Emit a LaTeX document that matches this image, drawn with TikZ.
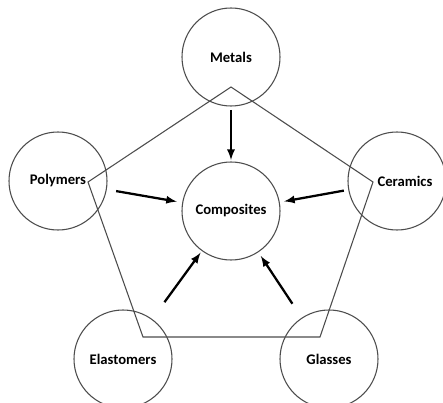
\documentclass[tikz,border=0pt]{standalone}
\usepackage{fontspec}
\setmainfont{Carlito}
\usepackage{tikz}
\usetikzlibrary{
    arrows,
    positioning
}
\newcommand{\famfont}{\bfseries\fontsize{11}{13}\selectfont}
\tikzset{
    family/.style={draw=black!70, line width=0.8pt, circle, minimum size=73.5pt, inner sep=0pt, outer sep=0pt, font=\famfont},
    frame/.style={draw=black!70, line width=0.8pt, line join=miter},
    feed/.style={-latex, line width=1.7pt}
}

\begin{document}
\begin{tikzpicture}[x=0.75pt, y=-0.75pt]
                        \useasboundingbox (0, 0) rectangle (443, 403);

                        \node[family] (metals) at (231, 57) {Metals};
                        \node[family] (polymers) at (58, 181) {Polymers};
                        \node[family, label={[name=ceramicstext, xshift=6pt, font=\famfont]center:Ceramics}] (ceramics) at (397, 181) {};
                        \node[family] (composites) at (231, 211) {Composites};
                        \node[family] (elastomers) at (123, 359) {Elastomers};
                        \node[family] (glasses) at (329, 359) {Glasses};

                        \coordinate (apex) at (231, 87);
                        \coordinate (left) at (88, 182);
                        \coordinate (lowleft) at (143, 337);
                        \coordinate (lowright) at (320, 337);
                        \coordinate (right) at (373, 182);

                        \draw[frame] (apex) -- (left) -- (lowleft) -- (lowright) -- (right) -- cycle;

                        \draw
                        (metals) edge[feed, shorten <=3pt, shorten >=1.5pt] (composites)
                        (polymers) edge[feed, shorten <=7.5pt, shorten >=4.5pt] (composites)
                        (ceramics) edge[feed, shorten <=3.75pt, shorten >=3.75pt] (composites)
                        (elastomers) edge[feed, shorten <=16pt, shorten >=2pt] (composites)
                        (glasses) edge[feed, shorten <=13pt, shorten >=3.75pt] (composites);
                    \end{tikzpicture}
\end{document}
